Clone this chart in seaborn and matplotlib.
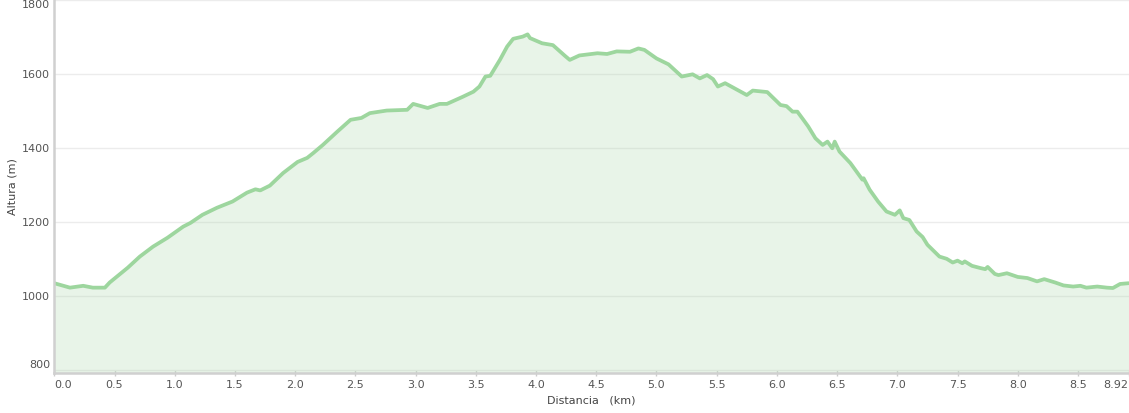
import matplotlib
matplotlib.use("Agg")
import matplotlib.pyplot as plt
import seaborn as sns
import pandas as pd

# elevation profile (km, m)
distance_km = [
    0.00, 0.13, 0.24, 0.32, 0.42, 0.46, 0.61, 0.71, 0.82, 0.94,
    1.07, 1.13, 1.23, 1.35, 1.48, 1.60, 1.67, 1.71, 1.79, 1.90,
    2.02, 2.10, 2.15, 2.23, 2.35, 2.46, 2.55, 2.62, 2.76, 2.93,
    2.98, 3.10, 3.20, 3.26, 3.39, 3.48, 3.53, 3.58, 3.62, 3.70,
    3.76, 3.81, 3.89, 3.93, 3.95, 4.05, 4.14, 4.24, 4.28, 4.36,
    4.51, 4.59, 4.67, 4.78, 4.85, 4.90, 5.00, 5.10, 5.21, 5.30,
    5.36, 5.42, 5.47, 5.51, 5.57, 5.75, 5.80, 5.92, 6.03, 6.08,
    6.13, 6.17, 6.22, 6.26, 6.32, 6.38, 6.42, 6.46, 6.48, 6.52,
    6.61, 6.65, 6.71, 6.72, 6.77, 6.84, 6.91, 6.98, 7.02, 7.05,
    7.10, 7.16, 7.21, 7.25, 7.35, 7.41, 7.46, 7.50, 7.54, 7.56,
    7.62, 7.69, 7.73, 7.75, 7.81, 7.84, 7.91, 8.00, 8.08, 8.16,
    8.22, 8.31, 8.38, 8.46, 8.52, 8.57, 8.66, 8.74, 8.79, 8.85,
    8.92,
]
altitude_m = [
    1034, 1022, 1027, 1022, 1022, 1036, 1076, 1106, 1133, 1157,
    1187, 1197, 1219, 1238, 1255, 1279, 1288, 1285, 1298, 1332,
    1362, 1373, 1386, 1408, 1444, 1476, 1481, 1494, 1501, 1503,
    1519, 1508, 1519, 1519, 1538, 1552, 1566, 1593, 1595, 1638,
    1674, 1695, 1701, 1707, 1697, 1683, 1678, 1649, 1638, 1650,
    1656, 1654, 1661, 1660, 1669, 1665, 1642, 1626, 1593, 1599,
    1588, 1597, 1586, 1566, 1575, 1543, 1555, 1551, 1516, 1513,
    1498, 1498, 1476, 1458, 1426, 1408, 1417, 1399, 1417, 1390,
    1359, 1341, 1314, 1318, 1287, 1255, 1228, 1219, 1231, 1210,
    1205, 1174, 1159, 1138, 1106, 1100, 1090, 1095, 1088, 1093,
    1081, 1075, 1072, 1078, 1059, 1056, 1061, 1051, 1048, 1039,
    1045, 1036, 1028, 1025, 1027, 1022, 1025, 1022, 1021, 1032,
    1034,
]

x_ticks = [0.0, 0.5, 1.0, 1.5, 2.0, 2.5, 3.0, 3.5, 4.0, 4.5, 5.0,
           5.5, 6.0, 6.5, 7.0, 7.5, 8.0, 8.5, 8.92]
x_tick_labels = ["0.0", "0.5", "1.0", "1.5", "2.0", "2.5", "3.0", "3.5",
                 "4.0", "4.5", "5.0", "5.5", "6.0", "6.5", "7.0", "7.5",
                 "8.0", "8.5", "8.92"]
y_ticks = [800, 1000, 1200, 1400, 1600, 1800]

sns.set_theme(style="white")
plt.rcParams['font.family'] = ['DejaVu Sans']

df = pd.DataFrame({"km": distance_km, "alt": altitude_m})

fig = plt.figure(figsize=(11.29, 4.13), dpi=100)
ax = fig.add_axes([0.0481, 0.0976, 0.9515, 0.9024])

line_color = "#9dd69e"
ax.fill_between(df["km"], df["alt"], 700, color="#a5d6a7", alpha=0.25,
                linewidth=0, zorder=2)
sns.lineplot(data=df, x="km", y="alt", ax=ax, color=line_color,
             linewidth=2.7, zorder=3)

ax.set_xlim(0, 8.92)
ax.set_ylim(792, 1800)

# grid and spines
ax.set_yticks(y_ticks)
ax.yaxis.grid(True, color="#ececec", linewidth=1, zorder=1)
ax.xaxis.grid(False)
for side in ["top", "right"]:
    ax.spines[side].set_visible(False)
for side in ["left", "bottom"]:
    ax.spines[side].set_color("#d0d0d0")
    ax.spines[side].set_linewidth(1.8)
    ax.spines[side].set_zorder(4)

ax.set_xticks(x_ticks)
ax.set_xticklabels(x_tick_labels)
ax.tick_params(axis="x", length=4, width=1, color="#cccccc", direction="inout",
               labelsize=8, labelcolor="#555555", pad=3, bottom=True)
ax.tick_params(axis="y", length=0, labelsize=8, labelcolor="#555555", pad=3)

xl = ax.get_xticklabels()
xl[0].set_horizontalalignment("left")
xl[-1].set_horizontalalignment("right")
yl = ax.get_yticklabels()
yl[0].set_verticalalignment("bottom")
yl[-1].set_verticalalignment("top")

ax.set_xlabel("Distancia   (km)", fontsize=8, color="#444444", labelpad=4)
ax.set_ylabel("Altura (m)", fontsize=8, color="#444444", labelpad=3)

fig.savefig("out.png", dpi=100)
